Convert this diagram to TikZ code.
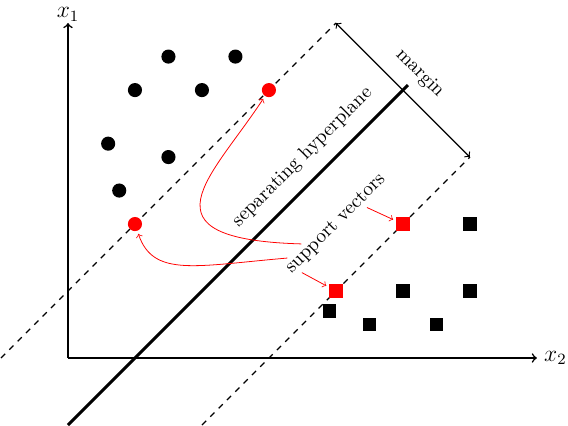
\documentclass[tikz,border=0pt]{standalone}
\usepackage{amsmath}
\usepackage{amssymb}

\begin{document}
\begin{tikzpicture}[x=0.6cm,y=0.6cm,
  circ/.style={circle,fill=black,inner sep=0pt,minimum size=7.2pt},
  sqr/.style={rectangle,fill=black,inner sep=0pt,minimum size=6.8pt},
  svarrow/.style={->,red,shorten >=1.5pt}]
\useasboundingbox (-2.03,-2.03) rectangle (14.93,10.69);
\coordinate (o) at (0,0);
\coordinate (xend) at (14,0);
\coordinate (yend) at (0,10);
\draw[thick,->] (o)--(xend) node[right,font=\large] (xlab) {$x_2$};
\draw[thick,->] (o)--(yend) node[above,font=\large,inner sep=0.5pt] (ylab) {$x_1$};
\coordinate (h1) at (0,-2);
\coordinate (h2) at (10.15,8.15);
\coordinate (u1) at (-2,0);
\coordinate (u2) at (8,10);
\coordinate (l1) at (4,-2);
\coordinate (l2) at (12,6);
\draw[ultra thick] (h1)--(h2);
\draw[dashed,semithick] (u1)--(u2);
\draw[dashed,semithick] (l1)--(l2);
\draw[semithick,<->] (u2)--(l2);
\node[rotate=-45] (mlab) at (10.5,8.5) {margin};
\node[rotate=45] (hlab) at (7,6) {separating hyperplane};
\node[circ] (c1) at (2,8) {};
\node[circ] (c2) at (4,8) {};
\node[circ] (c3) at (3,9) {};
\node[circ] (c4) at (5,9) {};
\node[circ] (c5) at (1.2,6.4) {};
\node[circ] (c6) at (3,6) {};
\node[circ] (c7) at (1.53,5) {};
\node[circ,fill=red] (r1) at (6,8) {};
\node[circ,fill=red] (r2) at (2,4) {};
\node[sqr] (q1) at (12,4) {};
\node[sqr] (q2) at (10,2) {};
\node[sqr] (q3) at (12,2) {};
\node[sqr] (q4) at (7.8,1.4) {};
\node[sqr] (q5) at (9,1) {};
\node[sqr] (q6) at (11,1) {};
\node[sqr,fill=red] (s1) at (8,2) {};
\node[sqr,fill=red] (s2) at (10,4) {};
\node[rotate=45,inner sep=1pt] (sv) at (8,4) {support vectors};
\draw[svarrow] (sv.165) .. controls (2.0,3.55) and (4.3,5.4) .. (r1);
\draw[svarrow] (sv.170) .. controls (3.8,2.75) and (2.55,2.4) .. (r2);
\draw[svarrow] (sv.190)--(s1);
\draw[svarrow] (sv.343)--(s2);
\end{tikzpicture}
\end{document}
